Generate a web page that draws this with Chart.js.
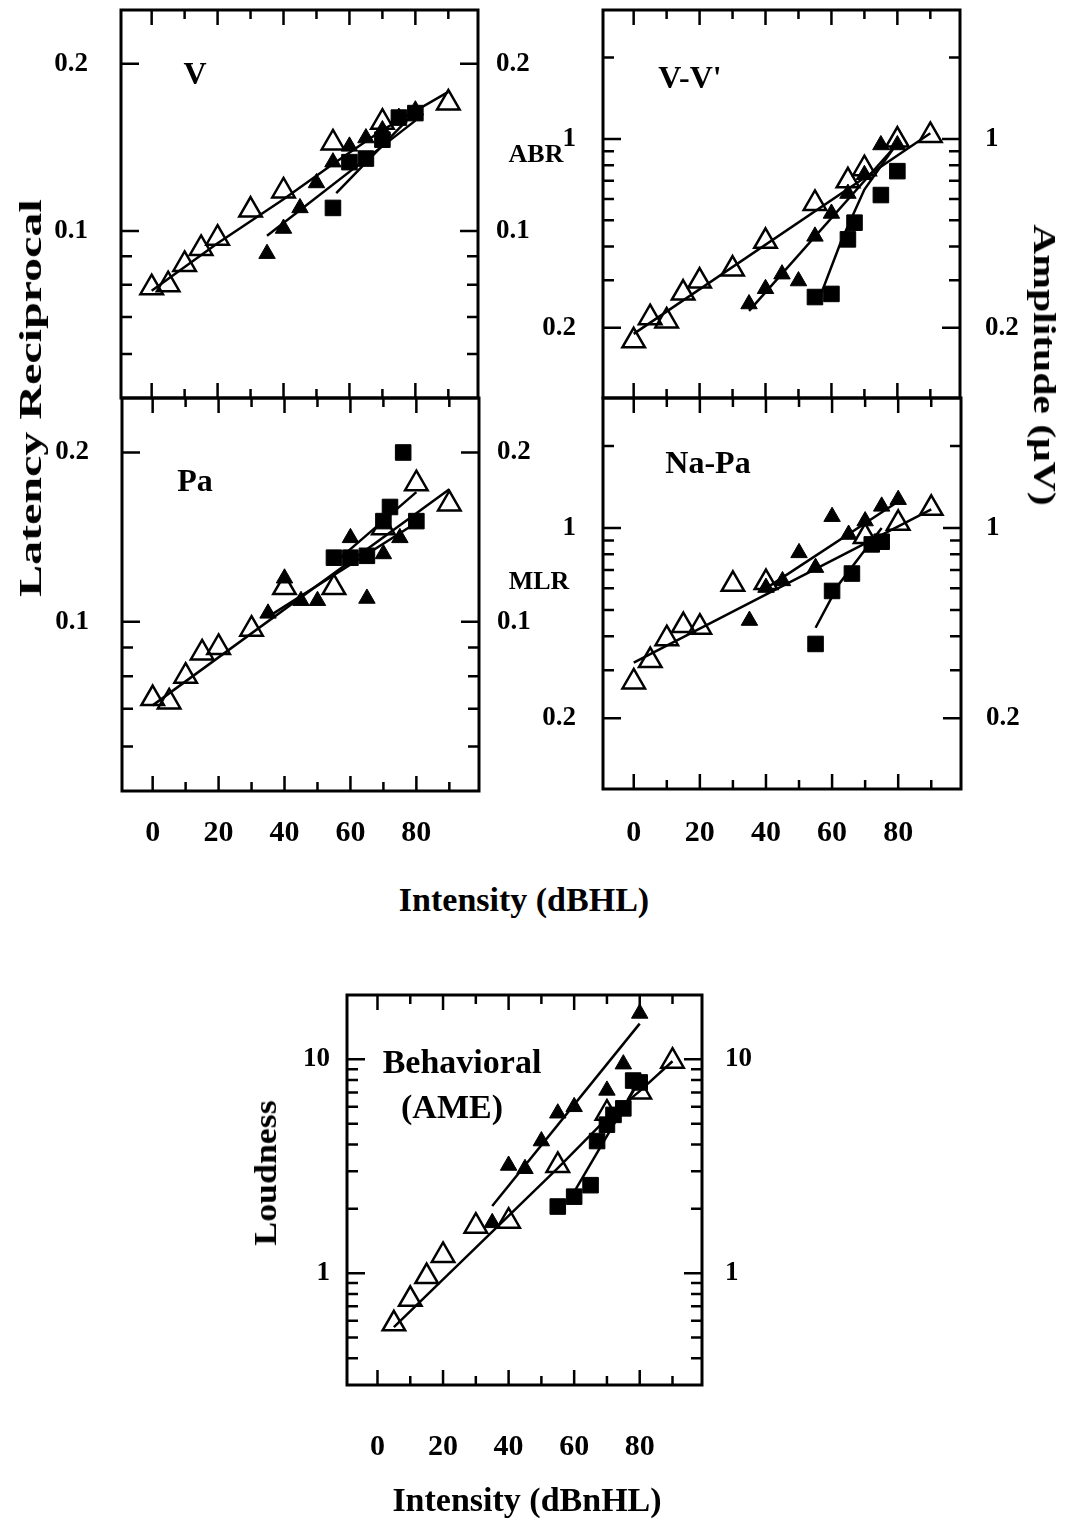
<!DOCTYPE html>
<html>
<head>
<meta charset="utf-8">
<script src="https://cdn.jsdelivr.net/npm/chart.js@4.4.1/dist/chart.umd.min.js"></script>
<style>
  body { margin: 0; background: #fff; }
  #fig { position: relative; width: 1076px; height: 1520px; overflow: hidden; background: #fff;
         font-family: 'Liberation Serif', 'DejaVu Serif', serif; font-weight: bold; color: #000; }
  #fig canvas { position: absolute; }
  .lbl { position: absolute; white-space: nowrap; line-height: 1; transform: translate(-50%, -50%); }
</style>
</head>
<body>
<div id="fig">
  <canvas id="cV"></canvas>
  <canvas id="cVV"></canvas>
  <canvas id="cPa"></canvas>
  <canvas id="cNaPa"></canvas>
  <canvas id="cAme"></canvas>

  <div class="lbl" style="left:30px; top:398px; font-size:32px; transform:translate(-50%,-50%) rotate(-90deg) scaleX(1.5)">Latency Reciprocal</div>
  <div class="lbl" style="left:1045px; top:365px; font-size:32px; transform:translate(-50%,-50%) rotate(90deg) scaleX(1.3)">Amplitude (μV)</div>
  <div class="lbl" style="left:536px; top:154px; font-size:26px">ABR</div>
  <div class="lbl" style="left:539px; top:581px; font-size:26px">MLR</div>
  <div class="lbl" style="left:195px; top:73px; font-size:32px">V</div>
  <div class="lbl" style="left:690px; top:77px; font-size:32px">V-V'</div>
  <div class="lbl" style="left:195px; top:480px; font-size:32px">Pa</div>
  <div class="lbl" style="left:708px; top:462px; font-size:32px">Na-Pa</div>
  <div class="lbl" style="left:462px; top:1062px; font-size:34px">Behavioral</div>
  <div class="lbl" style="left:452px; top:1107px; font-size:34px">(AME)</div>
  <div class="lbl" style="left:265px; top:1173px; font-size:32px; transform:translate(-50%,-50%) rotate(-90deg) scaleX(1.12)">Loudness</div>
  <div class="lbl" style="left:524px; top:900px; font-size:34px">Intensity (dBHL)</div>
  <div class="lbl" style="left:527px; top:1500px; font-size:34px">Intensity (dBnHL)</div>
</div>
<script>
// axes
const dbTicks = [0, 10, 20, 30, 40, 50, 60, 70, 80, 90]
const dbLabels = [0, 20, 40, 60, 80]
const latTicks = [0.06, 0.07, 0.08, 0.09, 0.1, 0.2]
const latLabels = [0.1, 0.2]
const ampTicks = [0.2, 0.3, 0.4, 0.5, 0.6, 0.7, 0.8, 0.9, 1, 2]
const ampLabels = [0.2, 1]
const loudTicks = [0.4, 0.5, 0.6, 0.7, 0.8, 0.9, 1, 2, 3, 4, 5, 6, 7, 8, 9, 10]
const loudLabels = [1, 10]

// ABR wave V, latency reciprocal
const vOpenDb = [0, 5, 10, 15, 20, 30, 40, 55, 70, 90]
const vOpenVal = [0.079, 0.080, 0.087, 0.093, 0.097, 0.109, 0.118, 0.144, 0.157, 0.170]
const vOpenFitDb = [0, 20, 40, 55, 70, 90]
const vOpenFitVal = [0.078, 0.095, 0.114, 0.132, 0.152, 0.178]
const vFillDb = [35, 40, 45, 50, 55, 60, 65, 70, 75, 80]
const vFillVal = [0.091, 0.101, 0.110, 0.122, 0.133, 0.142, 0.147, 0.152, 0.160, 0.165]
const vFillFitDb = [35, 80]
const vFillFitVal = [0.098, 0.158]
const vSqDb = [55, 60, 65, 70, 75, 80]
const vSqVal = [0.110, 0.133, 0.135, 0.146, 0.160, 0.163]
const vSqFitDb = [56, 80]
const vSqFitVal = [0.117, 0.164]

// ABR V-V' amplitude
const vvOpenDb = [0, 5, 10, 15, 20, 30, 40, 55, 65, 70, 80, 90]
const vvOpenVal = [0.179, 0.218, 0.212, 0.269, 0.298, 0.330, 0.418, 0.577, 0.70, 0.776, 0.99, 1.03]
const vvOpenFitDb = [0, 90]
const vvOpenFitVal = [0.19, 1.05]
const vvFillDb = [35, 40, 45, 50, 55, 60, 65, 70, 75, 80]
const vvFillVal = [0.245, 0.279, 0.316, 0.298, 0.436, 0.530, 0.628, 0.737, 0.95, 0.95]
const vvFillFitDb = [35, 80]
const vvFillFitVal = [0.231, 0.96]
const vvSqDb = [55, 60, 65, 67, 75, 80]
const vvSqVal = [0.26, 0.267, 0.425, 0.49, 0.62, 0.76]
const vvSqFitDb = [57, 63, 70, 79]
const vvSqFitVal = [0.27, 0.42, 0.65, 0.93]

// MLR Pa latency reciprocal
const paOpenDb = [0, 5, 10, 15, 20, 30, 40, 55, 70, 80, 90]
const paOpenVal = [0.073, 0.072, 0.080, 0.088, 0.090, 0.097, 0.115, 0.115, 0.147, 0.176, 0.162]
const paOpenFitDb = [0, 90]
const paOpenFitVal = [0.071, 0.172]
const paFillDb = [35, 40, 45, 50, 60, 65, 70, 75]
const paFillVal = [0.1035, 0.1195, 0.109, 0.109, 0.141, 0.110, 0.132, 0.141]
const paFillFitDb = [35, 80]
const paFillFitVal = [0.102, 0.150]
const paSqDb = [55, 60, 65, 70, 72, 76, 80]
const paSqVal = [0.130, 0.130, 0.131, 0.151, 0.160, 0.200, 0.151]
const paSqFitDb = [55, 80]
const paSqFitVal = [0.127, 0.170]

// MLR Na-Pa amplitude
const napaOpenDb = [0, 5, 10, 15, 20, 30, 40, 70, 80, 90]
const napaOpenVal = [0.272, 0.326, 0.392, 0.438, 0.432, 0.621, 0.630, 0.93, 1.04, 1.18]
const napaOpenFitDb = [0, 90]
const napaOpenFitVal = [0.32, 1.17]
const napaFillDb = [35, 40, 45, 50, 55, 60, 65, 70, 75, 80]
const napaFillVal = [0.457, 0.604, 0.639, 0.81, 0.715, 1.10, 0.946, 1.06, 1.2, 1.27]
const napaFillFitDb = [40, 80]
const napaFillFitVal = [0.60, 1.25]
const napaSqDb = [55, 60, 66, 72, 75]
const napaSqVal = [0.375, 0.587, 0.68, 0.87, 0.89]
const napaSqFitDb = [55, 62, 75]
const napaSqFitVal = [0.43, 0.62, 1.0]

// behavioral loudness (AME)
const ameOpenDb = [5, 10, 15, 20, 30, 40, 55, 70, 80, 90]
const ameOpenVal = [0.58, 0.755, 0.965, 1.21, 1.66, 1.75, 3.19, 5.6, 7.04, 9.8]
const ameOpenFitDb = [5, 55, 70, 80, 90]
const ameOpenFitVal = [0.56, 3.1, 5.3, 7.1, 9.8]
const ameFillDb = [35, 40, 45, 50, 55, 60, 70, 75, 80]
const ameFillVal = [1.72, 3.19, 3.08, 4.15, 5.6, 6.0, 7.16, 9.5, 16.4]
const ameFillFitDb = [35, 80]
const ameFillFitVal = [2.06, 14.7]
const ameSqDb = [55, 60, 65, 67, 70, 72, 75, 78, 80]
const ameSqVal = [2.05, 2.28, 2.58, 4.15, 4.95, 5.5, 5.9, 7.96, 7.8]
const ameSqFitDb = [60, 80]
const ameSqFitVal = [2.4, 8.0]

const FONT = "'Liberation Serif', 'DejaVu Serif', serif"

function pts(xs, ys) { return xs.map((x, i) => ({ x: x, y: ys[i] })) }

function fitLine(xs, ys) {
  return { data: pts(xs, ys), showLine: true, borderColor: '#000', borderWidth: 2.5, pointRadius: 0 }
}
function openTri(xs, ys) {
  return { data: pts(xs, ys), showLine: false, pointStyle: 'triangle', pointRadius: 13,
           pointBorderColor: '#000', pointBorderWidth: 2.5, pointBackgroundColor: 'rgba(255,255,255,0)' }
}
function fillTri(xs, ys) {
  return { data: pts(xs, ys), showLine: false, pointStyle: 'triangle', pointRadius: 9.5,
           pointBorderColor: '#000', pointBorderWidth: 1, pointBackgroundColor: '#000' }
}
function square(xs, ys) {
  return { data: pts(xs, ys), showLine: false, pointStyle: 'rect', pointRadius: 11,
           pointBorderColor: '#000', pointBorderWidth: 1, pointBackgroundColor: '#000' }
}

// inward tick marks and frame, from the chart's own scales
const frameTicks = {
  id: 'frameTicks',
  beforeDatasetsDraw(chart, args, o) {
    const { ctx, chartArea: a } = chart
    const xs = chart.scales.x, ys = chart.scales.y
    ctx.save()
    ctx.strokeStyle = '#000'
    ctx.lineWidth = 2.5
    ctx.beginPath()
    xs.ticks.forEach(t => {
      const p = xs.getPixelForValue(t.value)
      const len = dbLabels.includes(t.value) ? 15 : 9
      ctx.moveTo(p, a.top); ctx.lineTo(p, a.top + len)
      ctx.moveTo(p, a.bottom); ctx.lineTo(p, a.bottom - len)
    })
    ys.ticks.forEach(t => {
      const p = ys.getPixelForValue(t.value)
      const len = o.major.includes(t.value) ? 18 : 11
      ctx.moveTo(a.left, p); ctx.lineTo(a.left + len, p)
      ctx.moveTo(a.right, p); ctx.lineTo(a.right - len, p)
    })
    ctx.stroke()
    ctx.lineWidth = 3
    ctx.strokeRect(a.left, a.top, a.right - a.left, a.bottom - a.top)
    ctx.restore()
  }
}

function yAxis(pos, ax, width, pad) {
  return {
    type: 'logarithmic', position: pos, min: ax.min, max: ax.max,
    grid: { display: false, drawTicks: false }, border: { display: false },
    afterBuildTicks: s => { s.ticks = ax.ticks.map(v => ({ value: v })) },
    // fixed width, and no extra room for the labels above/below the area
    afterFit: s => { s.width = width; s.paddingTop = 0; s.paddingBottom = 0 },
    ticks: {
      autoSkip: false, padding: pad, color: '#000',
      font: { family: FONT, weight: 'bold', size: 27 },
      callback: v => ax.labels.includes(v) ? String(v) : ''
    }
  }
}

function panel(id, box, area, ax, pads, xLabels, xPad, datasets) {
  const cv = document.getElementById(id)
  cv.width = box.w; cv.height = box.h
  cv.style.left = box.left + 'px'; cv.style.top = box.top + 'px'
  new Chart(cv, {
    type: 'scatter',
    data: { datasets: datasets },
    options: {
      animation: false, responsive: false, events: [],
      layout: { autoPadding: false, padding: { top: area.t - box.top, left: 0, right: 0, bottom: 0 } },
      plugins: { legend: { display: false }, tooltip: { enabled: false }, frameTicks: { major: ax.labels } },
      scales: {
        x: {
          type: 'linear', position: 'bottom', min: -9.3, max: 99,
          grid: { display: false, drawTicks: false }, border: { display: false },
          afterBuildTicks: s => { s.ticks = dbTicks.map(v => ({ value: v })) },
          afterFit: s => { s.height = box.top + box.h - area.b; s.paddingLeft = 0; s.paddingRight = 0 },
          ticks: {
            display: xLabels, autoSkip: false, maxRotation: 0, padding: xPad, color: '#000',
            font: { family: FONT, weight: 'bold', size: 30 },
            callback: v => dbLabels.includes(v) ? String(v) : ''
          }
        },
        y: yAxis('left', ax, area.l - box.left, pads[0]),
        y2: yAxis('right', ax, box.left + box.w - area.r, pads[1])
      }
    },
    plugins: [frameTicks]
  })
}

const latAxis = { min: 0.05, max: 0.25, ticks: latTicks, labels: latLabels }
const ampAxis = { min: 0.11, max: 3.0, ticks: ampTicks, labels: ampLabels }
const loudAxis = { min: 0.32, max: 20, ticks: loudTicks, labels: loudLabels }

panel('cV', { left: 0, top: 0, w: 545, h: 400 }, { l: 121, r: 478, t: 10, b: 398 },
  latAxis, [33, 18], false, 0, [
    fitLine(vOpenFitDb, vOpenFitVal), fitLine(vFillFitDb, vFillFitVal), fitLine(vSqFitDb, vSqFitVal),
    openTri(vOpenDb, vOpenVal), fillTri(vFillDb, vFillVal), square(vSqDb, vSqVal)
  ])

panel('cVV', { left: 540, top: 0, w: 536, h: 400 }, { l: 603, r: 960, t: 10, b: 398 },
  ampAxis, [27, 25], false, 0, [
    fitLine(vvOpenFitDb, vvOpenFitVal), fitLine(vvFillFitDb, vvFillFitVal), fitLine(vvSqFitDb, vvSqFitVal),
    openTri(vvOpenDb, vvOpenVal), fillTri(vvFillDb, vvFillVal), square(vvSqDb, vvSqVal)
  ])

panel('cPa', { left: 0, top: 390, w: 545, h: 490 }, { l: 122, r: 479, t: 398, b: 791 },
  latAxis, [33, 18], true, 24, [
    fitLine(paOpenFitDb, paOpenFitVal), fitLine(paFillFitDb, paFillFitVal), fitLine(paSqFitDb, paSqFitVal),
    openTri(paOpenDb, paOpenVal), fillTri(paFillDb, paFillVal), square(paSqDb, paSqVal)
  ])

panel('cNaPa', { left: 540, top: 390, w: 536, h: 490 }, { l: 603, r: 961, t: 398, b: 789 },
  ampAxis, [27, 25], true, 26, [
    fitLine(napaOpenFitDb, napaOpenFitVal), fitLine(napaFillFitDb, napaFillFitVal), fitLine(napaSqFitDb, napaSqFitVal),
    openTri(napaOpenDb, napaOpenVal), fillTri(napaFillDb, napaFillVal), square(napaSqDb, napaSqVal)
  ])

panel('cAme', { left: 240, top: 985, w: 560, h: 500 }, { l: 347, r: 702, t: 995, b: 1385 },
  loudAxis, [17, 23], true, 44, [
    fitLine(ameOpenFitDb, ameOpenFitVal), fitLine(ameFillFitDb, ameFillFitVal), fitLine(ameSqFitDb, ameSqFitVal),
    openTri(ameOpenDb, ameOpenVal), fillTri(ameFillDb, ameFillVal), square(ameSqDb, ameSqVal)
  ])
</script>
</body>
</html>
